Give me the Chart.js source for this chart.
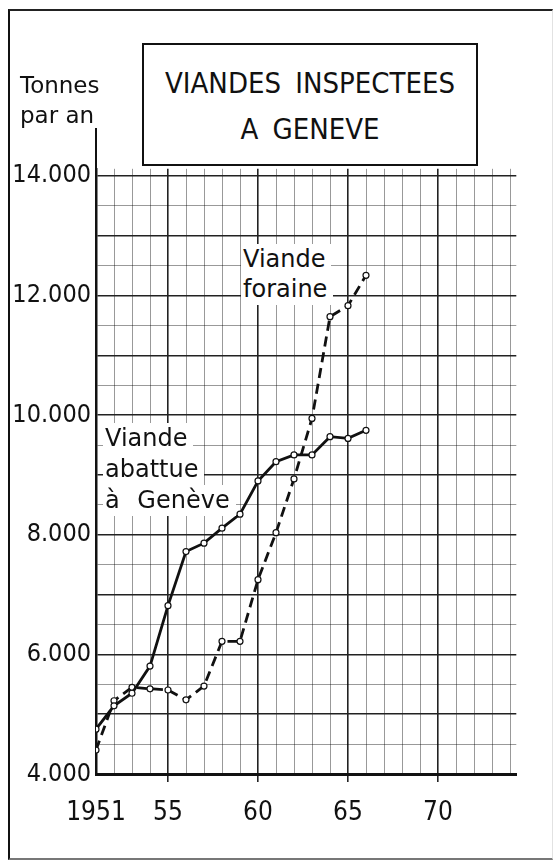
<!DOCTYPE html>
<html lang="fr">
<head>
<meta charset="utf-8">
<title>Viandes inspectées à Genève</title>
<script src="https://cdn.jsdelivr.net/npm/chart.js@4.4.1/dist/chart.umd.min.js"></script>
<style>
  * { box-sizing:border-box; margin:0; padding:0 }
  body { width:555px; height:864px; background:#fff; position:relative; overflow:hidden; font-family:'DejaVu Sans', sans-serif; color:#111; }
  #chart { position:absolute; left:0; top:0; }
  .frame {
    position:absolute; left:8px; top:9px; width:545px; height:851px;
    border-left:2.5px solid #111; border-top:2.5px solid #222;
    border-right:1px solid #e2e2e2; border-bottom:2px solid #777;
  }
  .titlebox {
    position:absolute; left:142px; top:43px; width:336px; height:123px;
    border:2.5px solid #111; background:#fff;
  }
  .title {
    position:absolute; left:142px; width:336px; text-align:center;
    font-family:'DejaVu Sans Condensed', sans-serif; font-size:29px; line-height:1;
    word-spacing:6px; white-space:nowrap;
  }
  .txt { position:absolute; font-size:23px; line-height:1; white-space:nowrap; }
  .lbl { position:absolute; font-size:24px; line-height:1; white-space:nowrap; }
  .lbl span { display:block; width:fit-content; background:#fff; padding:3px 6px 4px 2px; }
  .yline { position:absolute; left:94.8px; top:128px; width:2.5px; height:44px; background:#111; }
</style>
</head>
<body>
<canvas id="chart" width="555" height="864"></canvas>
<div class="frame"></div>
<div class="titlebox"></div>
<div class="title" style="top:69px">VIANDES INSPECTEES</div>
<div class="title" style="top:115px">A GENEVE</div>
<div class="txt" style="left:20px; top:74px">Tonnes</div>
<div class="txt" style="left:20px; top:104px">par an</div>
<div class="yline"></div>
<div class="lbl" style="left:241px; top:244px">
  <span>Viande</span><span style="margin-top:-1px">foraine</span>
</div>
<div class="lbl" style="left:103px; top:423px">
  <span>Viande</span><span>abattue</span><span style="word-spacing:10px">à Genève</span>
</div>
<script>
// years on the x axis
const years = [1951, 1952, 1953, 1954, 1955, 1956, 1957, 1958, 1959, 1960, 1961, 1962, 1963, 1964, 1965, 1966];
// tonnes per year
const viandeAbattue = [4750, 5140, 5350, 5805, 6815, 7720, 7860, 8110, 8345, 8900, 9222, 9335, 9335, 9640, 9612, 9747];
const viandeForaine = [4400, 5225, 5450, 5425, 5405, 5240, 5471, 6219, 6219, 7250, 8035, 8935, 9945, 11647, 11831, 12339];

// grid / tick settings
const xGridYears = Array.from({ length: 24 }, (_, i) => 1951 + i);
const xLabels = { 1951: '1951', 1955: '55', 1960: '60', 1965: '65', 1970: '70' };
const yGridValues = Array.from({ length: 21 }, (_, i) => 4000 + i * 500);
const yLabels = { 4000: '4.000', 6000: '6.000', 8000: '8.000', 10000: '10.000', 12000: '12.000', 14000: '14.000' };

const minor = 'rgba(0,0,0,0.4)';
const major = '#222';

new Chart(document.getElementById('chart'), {
  type: 'line',
  data: {
    datasets: [
      {
        label: 'Viande abattue à Genève',
        data: years.map((y, i) => ({ x: y, y: viandeAbattue[i] })),
        borderColor: '#111',
        borderWidth: 2.8,
        pointRadius: 3,
        pointBorderWidth: 1.2,
        pointBackgroundColor: '#fff',
        pointBorderColor: '#111',
        tension: 0
      },
      {
        label: 'Viande foraine',
        data: years.map((y, i) => ({ x: y, y: viandeForaine[i] })),
        borderColor: '#111',
        borderWidth: 2.8,
        borderDash: [10, 6],
        pointRadius: 3,
        pointBorderWidth: 1.2,
        pointBackgroundColor: '#fff',
        pointBorderColor: '#111',
        tension: 0
      }
    ]
  },
  options: {
    responsive: false,
    animation: false,
    devicePixelRatio: 1,
    layout: { padding: { left: 0, top: 168.8, right: 38.7, bottom: 0 } },
    plugins: { legend: { display: false }, tooltip: { enabled: false } },
    scales: {
      x: {
        type: 'linear',
        min: 1951,
        max: 1974.35,
        afterBuildTicks: s => { s.ticks = xGridYears.map(v => ({ value: v })); },
        afterFit: s => { s.height = 90; },
        border: { display: true, color: '#111', width: 3 },
        grid: {
          color: c => {
            const v = c.tick && c.tick.value;
            if (v === 1951) return 'transparent';
            return v % 5 === 0 ? major : minor;
          },
          lineWidth: c => (c.tick && c.tick.value % 5 === 0 ? 1.6 : 1),
          tickColor: c => (c.tick && c.tick.value % 5 === 0 && c.tick.value !== 1951 ? major : 'transparent'),
          tickLength: 8,
          tickWidth: 1.6
        },
        ticks: {
          autoSkip: false,
          maxRotation: 0,
          padding: 16,
          color: '#111',
          font: { family: "'DejaVu Sans Condensed', sans-serif", size: 26 },
          callback: v => xLabels[v] || ''
        }
      },
      y: {
        type: 'linear',
        min: 4000,
        max: 14120,
        afterBuildTicks: s => { s.ticks = yGridValues.map(v => ({ value: v })); },
        afterFit: s => { s.width = 96; },
        border: { display: true, color: '#111', width: 2.5 },
        grid: {
          color: c => {
            const v = c.tick && c.tick.value;
            if (v === 4000) return 'transparent';
            return v % 1000 === 0 ? major : minor;
          },
          lineWidth: c => (c.tick && c.tick.value % 1000 === 0 ? 1.4 : 1),
          drawTicks: false
        },
        ticks: {
          autoSkip: false,
          padding: 5,
          color: '#111',
          font: { family: "'DejaVu Sans Condensed', sans-serif", size: 25 },
          callback: v => yLabels[v] || ''
        }
      }
    }
  }
});
</script>
</body>
</html>
